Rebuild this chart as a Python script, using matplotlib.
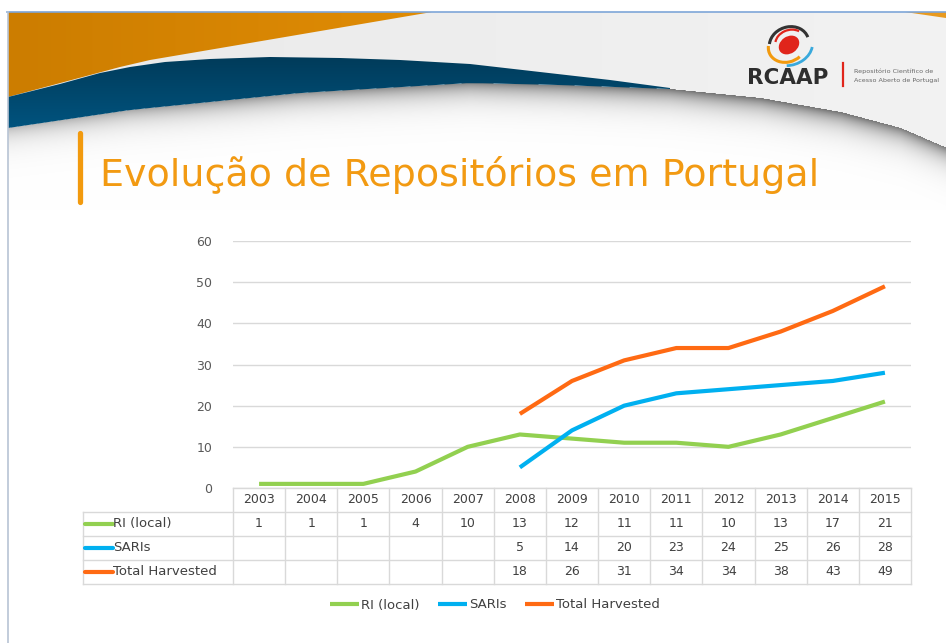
import numpy as np
import matplotlib
matplotlib.use("Agg")
import matplotlib.pyplot as plt
from matplotlib.patches import Polygon, Ellipse, Arc
from matplotlib.lines import Line2D
import matplotlib.transforms as mtransforms

# ---------------- data ----------------
years = ["2003", "2004", "2005", "2006", "2007", "2008", "2009",
         "2010", "2011", "2012", "2013", "2014", "2015"]
ri_local = [1, 1, 1, 4, 10, 13, 12, 11, 11, 10, 13, 17, 21]
saris = [None, None, None, None, None, 5, 14, 20, 23, 24, 25, 26, 28]
total_harvested = [None, None, None, None, None, 18, 26, 31, 34, 34, 38, 43, 49]
series_names = ["RI (local)", "SARIs", "Total Harvested"]
series_colors = ["#92D050", "#00B0F0", "#FF6A13"]
yticks = [0, 10, 20, 30, 40, 50, 60]
title = "Evolução de Repositórios em Portugal"

W, H = 946, 643
fig = plt.figure(figsize=(W / 100, H / 100), dpi=100)

# ---------------- background (slide decoration) ----------------
bg = fig.add_axes([0, 0, 1, 1], zorder=0)
bg.set_xlim(0, W)
bg.set_ylim(H, 0)
bg.axis("off")

# shadow / light gray image for header
y0, y1 = 12, 210
xs = np.arange(W) + 0.5
ys = np.arange(y0, y1) + 0.5
bx = [0, 8, 130, 300, 470, 560, 670, 760, 840, 900, 946]
by = [130, 128, 110, 93, 83, 85, 89, 98, 112, 128, 148]
bnd = np.interp(xs, bx, by)
XX, YY = np.meshgrid(xs, ys)
D = YY - bnd[None, :]
light = 0.915 + 0.035 * (XX / W)
strength = np.interp(XX, [0, 200, 450, 700, 850, 946], [0.25, 0.38, 0.46, 0.55, 0.55, 0.5])
shade = 1 - strength * np.exp(-np.clip(D, 0, None) / 12.0)
val = np.where(D < 0, light, shade)
val = np.where(XX < 8, 1.0, val)
img = np.dstack([val, val, val])
bg.imshow(img, extent=(0, W, y1, y0), origin="upper", aspect="auto", zorder=0,
          interpolation="bilinear")

# orange swoosh (horizontal gradient, clipped)
orange_poly = Polygon([(8, 12), (432, 12), (150, 60), (120, 67), (8, 97)], closed=True,
                      facecolor="none", edgecolor="none")
bg.add_patch(orange_poly)
c1 = np.array([0.80, 0.49, 0.0])
c2 = np.array([0.88, 0.55, 0.02])
tt = np.linspace(0, 1, 200)[None, :, None]
og = (c1 + (c2 - c1) * tt) * np.ones((10, 1, 1))
oim = bg.imshow(og, extent=(8, 432, 97, 12), origin="upper", aspect="auto", zorder=1)
oim.set_clip_path(orange_poly)
bg.add_patch(Polygon([(905, 12), (946, 12), (946, 18)], closed=True,
                     facecolor="#E89A20", edgecolor="none", zorder=1))

# dark blue band (vertical gradient, clipped)
top_x = [8, 60, 100, 130, 165, 210, 270, 340, 400, 470, 540, 610, 670]
top_y = [97, 84, 73, 67, 62, 59, 57, 58, 60, 64, 72, 80, 88]
bot_x = np.linspace(8, 670, 40)
bot_y = np.interp(bot_x, bx, by)
band = Polygon(list(zip(top_x, top_y)) + list(zip(bot_x[::-1], bot_y[::-1])), closed=True,
               facecolor="none", edgecolor="none")
bg.add_patch(band)
b1 = np.array([0.0, 0.23, 0.35])
b2 = np.array([0.0, 0.33, 0.50])
tv = np.linspace(0, 1, 80)[:, None, None]
bgd = (b1 + (b2 - b1) * tv) * np.ones((1, 10, 1))
bim = bg.imshow(bgd, extent=(8, 670, 130, 55), origin="upper", aspect="auto", zorder=2)
bim.set_clip_path(band)

# slide frame
bg.add_line(Line2D([7, W], [12, 12], color="#7EA6D8", lw=1.2, zorder=3))
bg.add_line(Line2D([8, 8], [12, H], color="#B8C4D4", lw=1.2, zorder=3))

# logo
bg.add_patch(Ellipse((789, 45), 22, 17, angle=-35, facecolor="#E0251B", edgecolor="none", zorder=4))
bg.add_patch(Arc((789, 44), 40, 34, angle=-20, theta1=200, theta2=360, color="#333333", lw=2.2, zorder=4))
bg.add_patch(Arc((787, 46), 38, 32, angle=-20, theta1=60, theta2=200, color="#F29A0E", lw=2.2, zorder=4))
bg.add_patch(Arc((790, 47), 46, 36, angle=-20, theta1=20, theta2=120, color="#39A9DC", lw=2.0, zorder=4))
bg.add_patch(Arc((790, 42), 30, 24, angle=-20, theta1=200, theta2=330, color="#E0251B", lw=1.6, zorder=4))
bg.text(788, 84, "RCAAP", fontsize=15.5, fontweight="bold", color="#2E2E2E",
        ha="center", va="baseline", family="DejaVu Sans", zorder=4)
bg.add_line(Line2D([843, 843], [63, 86], color="#E0251B", lw=1.6, zorder=4))
bg.text(854, 73, "Repositório Científico de", fontsize=4.6, color="#666666",
        ha="left", va="baseline", zorder=4)
bg.text(854, 82, "Acesso Aberto de Portugal", fontsize=4.6, color="#666666",
        ha="left", va="baseline", zorder=4)

# title bar + title
bg.add_line(Line2D([80, 80], [133, 202], color="#F29A0E", lw=3.8,
                   solid_capstyle="round", zorder=4))
t = bg.text(100, 186, title, fontsize=30, color="#F29A12", ha="left", va="baseline",
            family="DejaVu Sans", zorder=4)
fig.canvas.draw()
r = fig.canvas.get_renderer()
wpx = t.get_window_extent(r).width
t.set_fontsize(30 * 718.0 / wpx)

# ---------------- chart ----------------
AX_L, AX_R, AX_T, AX_B = 233, 911, 241, 488
ax = fig.add_axes([AX_L / W, 1 - AX_B / H, (AX_R - AX_L) / W, (AX_B - AX_T) / H], zorder=2)
ax.set_facecolor("none")
n = len(years)
x = np.arange(n)
ax.set_xlim(-0.5, n - 0.5)
ax.set_ylim(0, 60)
ax.set_yticks(yticks)
ax.set_yticklabels([str(v) for v in yticks])
ax.tick_params(axis="y", length=0, pad=15, labelsize=9, labelcolor="#595959")
ax.set_xticks([])
for s in ax.spines.values():
    s.set_visible(False)
ax.grid(axis="y", color="#D9D9D9", lw=1.0)
ax.set_axisbelow(True)

all_series = [ri_local, saris, total_harvested]
handles = []
for vals, name, col in zip(all_series, series_names, series_colors):
    arr = np.array([np.nan if v is None else v for v in vals], dtype=float)
    h, = ax.plot(x, arr, color=col, lw=3.0, solid_joinstyle="round",
                 solid_capstyle="butt", label=name, zorder=3)
    handles.append(h)

# ---------------- data table ----------------
ax_h = AX_B - AX_T


def ya(ypx):
    return (AX_B - ypx) / ax_h


def xa(xpx):
    return (xpx - AX_L) / (AX_R - AX_L)


blend = mtransforms.blended_transform_factory(ax.transData, ax.transAxes)
grid_col = "#D9D9D9"
row_y = [488, 511.5, 535.5, 559.5, 584]
ax.add_line(Line2D([0, 1], [ya(row_y[0])] * 2, transform=ax.transAxes, color=grid_col,
                   lw=1.0, clip_on=False))
for yy in row_y[1:]:
    ax.add_line(Line2D([xa(83), 1], [ya(yy)] * 2, transform=ax.transAxes, color=grid_col,
                       lw=1.0, clip_on=False))
ax.add_line(Line2D([xa(83)] * 2, [ya(row_y[1]), ya(row_y[-1])], transform=ax.transAxes,
                   color=grid_col, lw=1.0, clip_on=False))
for k in range(n + 1):
    ax.add_line(Line2D([k - 0.5] * 2, [ya(row_y[0]), ya(row_y[-1])], transform=blend,
                       color=grid_col, lw=1.0, clip_on=False))

txt_col = "#404040"
hdr_c = ya((row_y[0] + row_y[1]) / 2)
for i, yr in enumerate(years):
    ax.text(i, hdr_c, yr, transform=blend, ha="center", va="center", fontsize=9,
            color=txt_col, clip_on=False)
for r_i, (vals, name, col) in enumerate(zip(all_series, series_names, series_colors)):
    yc = ya((row_y[r_i + 1] + row_y[r_i + 2]) / 2)
    ax.add_line(Line2D([xa(85), xa(113)], [yc, yc], transform=ax.transAxes, color=col,
                       lw=3.0, clip_on=False, solid_capstyle="round"))
    ax.text(xa(113), yc, name, transform=ax.transAxes, ha="left", va="center",
            fontsize=9.5, color=txt_col, clip_on=False)
    for i, v in enumerate(vals):
        if v is not None:
            ax.text(i, yc, str(v), transform=blend, ha="center", va="center",
                    fontsize=9, color=txt_col, clip_on=False)

leg = ax.legend(handles, series_names, loc="center", bbox_to_anchor=(495 / W, 1 - 605 / H),
                bbox_transform=fig.transFigure, ncol=3, frameon=False, fontsize=9.5,
                handlelength=2.2, handletextpad=0.15, columnspacing=1.4)
for tx in leg.get_texts():
    tx.set_color(txt_col)

fig.savefig("out.png", dpi=100)
